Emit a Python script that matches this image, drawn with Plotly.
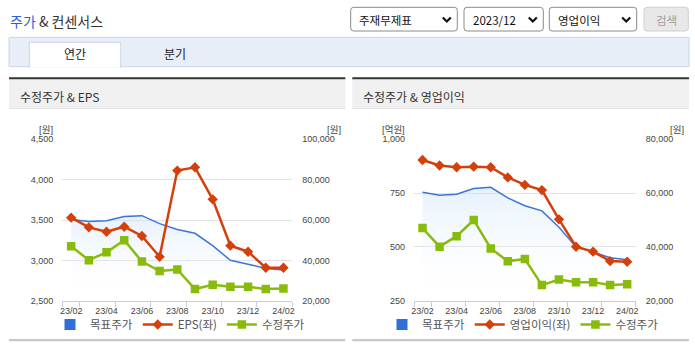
import plotly.graph_objects as go

W, H = 695, 349

# ---------------- data ----------------
months = ['23/02', '23/03', '23/04', '23/05', '23/06', '23/07', '23/08',
          '23/09', '23/10', '23/11', '23/12', '24/01', '24/02']
target_price = [60300, 59200, 59600, 61700, 62150, 58200, 55300,
                53400, 47300, 40000, 38100, 36000, 35200]          # 목표주가 (원)
adj_price = [47000, 40100, 44000, 50000, 39400, 34700, 35500,
             25800, 27900, 26900, 26900, 25800, 26100]             # 수정주가 (원)
eps = [3529, 3409, 3355, 3417, 3302, 3045, 4112,
       4153, 3756, 3182, 3107, 2909, 2909]                         # EPS (원)
op_income = [904, 878, 870, 873, 870, 823, 788,
             764, 628, 501, 478, 434, 431]                         # 영업이익 (억원)

header_title = '주가 & 컨센서스'
tabs = ['연간', '분기']
selects = ['주재무제표', '2023/12', '영업이익']
button_text = '검색'
panel_titles = ['수정주가 & EPS', '수정주가 & 영업이익']

# ---------------- styles ----------------
BLUE = '#2f6fd8'
BLUE_LINE = '#3b76d6'
RED = '#d4400c'
GREEN = '#88bb0c'
KFONT = 'Noto Sans CJK KR, Noto Sans, sans-serif'
NFONT = 'Liberation Sans, Noto Sans CJK KR, sans-serif'


def px(x):
    return x / W


def py(y):
    return 1 - y / H


idx = list(range(len(months)))
tickvals = idx[::2]
ticktext = months[::2]
minor_vals = [-0.5] + [i + 0.5 for i in idx[::2]]

fig = go.Figure()


def add_chart(xa, ya_price, ya_left, left_vals, left_name, legend_id):
    # legend-only swatch for 목표주가
    fig.add_trace(go.Scatter(
        x=[None], y=[None], mode='markers', name='목표주가',
        marker=dict(symbol='square', size=11, color=BLUE),
        xaxis=xa, yaxis=ya_price, legend=legend_id, legendrank=1,
        hoverinfo='skip'))
    # target price area
    fig.add_trace(go.Scatter(
        x=idx, y=target_price, mode='lines', name='목표주가', showlegend=False,
        line=dict(color=BLUE_LINE, width=1.5), fill='tozeroy',
        fillgradient=dict(type='vertical', start=20000, stop=max(target_price),
                          colorscale=[[0, 'rgba(255,255,255,0)'],
                                      [1, 'rgba(200,222,248,0.45)']]),
        xaxis=xa, yaxis=ya_price, legend=legend_id))
    # adjusted price
    fig.add_trace(go.Scatter(
        x=idx, y=adj_price, mode='lines+markers', name='수정주가',
        line=dict(color=GREEN, width=2.5),
        marker=dict(symbol='square', size=8.5, color=GREEN),
        xaxis=xa, yaxis=ya_price, legend=legend_id, legendrank=3))
    # left-axis series (drawn on overlaying axis => on top)
    fig.add_trace(go.Scatter(
        x=idx, y=left_vals, mode='lines+markers', name=left_name,
        line=dict(color=RED, width=2.5),
        marker=dict(symbol='diamond', size=8, color=RED),
        xaxis=xa, yaxis=ya_left, legend=legend_id, legendrank=2))


add_chart('x', 'y', 'y2', eps, 'EPS(좌)', 'legend')
add_chart('x2', 'y3', 'y4', op_income, '영업이익(좌)', 'legend2')

AXIS_COLOR = '#c3cfe0'
GRID = '#e2e2e2'
TICKFONT = dict(family=NFONT, size=9, color='#444')


def xaxis_cfg(x0, x1, anchor):
    return dict(domain=[px(x0), px(x1)], anchor=anchor, range=[-0.5, len(months) - 0.5],
                tickmode='array', tickvals=tickvals, ticktext=ticktext,
                ticks='', showgrid=False, zeroline=False, automargin=False,
                showline=True, linecolor=AXIS_COLOR, linewidth=1,
                tickfont=TICKFONT, fixedrange=True, ticklabelstandoff=1,
                minor=dict(tickmode='array', tickvals=minor_vals, ticks='outside',
                           ticklen=5, tickcolor=AXIS_COLOR, tickwidth=1, showgrid=False))


def price_axis(anchor, top):
    return dict(domain=YDOM, anchor=anchor, side='right', range=[20000, top], dtick=20000,
                tickformat=',', showgrid=True, gridcolor=GRID, zeroline=False,
                showline=False, ticks='', tickfont=TICKFONT, ticklabelstandoff=9,
                fixedrange=True, automargin=False)


def left_axis(anchor, over, lo, hi, step):
    return dict(domain=YDOM, anchor=anchor, overlaying=over, side='left',
                range=[lo, hi], dtick=step, tickformat=',', showgrid=False,
                zeroline=False, showline=False, ticks='', tickfont=TICKFONT,
                ticklabelstandoff=8, fixedrange=True, automargin=False)


YDOM = [py(300.7), py(139.3)]

LEGEND_FONT = dict(family=KFONT, size=11.5, color='#555')

fig.update_layout(
    template='none',
    width=W, height=H, margin=dict(l=0, r=0, t=0, b=0, pad=0, autoexpand=False),
    paper_bgcolor='white', plot_bgcolor='white',
    showlegend=True, hovermode=False,
    xaxis=xaxis_cfg(62.3, 292.3, 'y'),
    xaxis2=xaxis_cfg(414, 635.7, 'y3'),
    yaxis=price_axis('x', 100000),
    yaxis2=left_axis('x', 'y', 2500, 4500, 500),
    yaxis3=price_axis('x2', 80000),
    yaxis4=left_axis('x2', 'y3', 250, 1000, 250),
    legend=dict(orientation='h', x=px(180), y=py(324.5), xanchor='center', yanchor='middle',
                font=LEGEND_FONT, bgcolor='rgba(0,0,0,0)', itemwidth=30,
                tracegroupgap=0),
    legend2=dict(orientation='h', x=px(523), y=py(324.5), xanchor='center', yanchor='middle',
                 font=LEGEND_FONT, bgcolor='rgba(0,0,0,0)', itemwidth=30,
                 tracegroupgap=0),
)

shapes = []
annotations = []


def rect(x0, y0, x1, y1, fill, line=None, lw=1):
    shapes.append(dict(type='rect', xref='paper', yref='paper', layer='below',
                       x0=px(x0), x1=px(x1), y0=py(y1), y1=py(y0),
                       fillcolor=fill, line=dict(color=line or fill, width=lw if line else 0)))


def rrect(x0, y0, x1, y1, r, fill, line, lw=1):
    p = (f'M {px(x0 + r)},{py(y0)} L {px(x1 - r)},{py(y0)} '
         f'Q {px(x1)},{py(y0)} {px(x1)},{py(y0 + r)} '
         f'L {px(x1)},{py(y1 - r)} Q {px(x1)},{py(y1)} {px(x1 - r)},{py(y1)} '
         f'L {px(x0 + r)},{py(y1)} Q {px(x0)},{py(y1)} {px(x0)},{py(y1 - r)} '
         f'L {px(x0)},{py(y0 + r)} Q {px(x0)},{py(y0)} {px(x0 + r)},{py(y0)} Z')
    shapes.append(dict(type='path', xref='paper', yref='paper', path=p,
                       fillcolor=fill, line=dict(color=line, width=lw)))


def text(x, y, s, size=12, color='#333', xanchor='left', family=KFONT):
    annotations.append(dict(xref='paper', yref='paper', x=px(x), y=py(y), text=s,
                            showarrow=False, xanchor=xanchor, yanchor='middle',
                            font=dict(family=family, size=size, color=color), borderpad=0))


def chevron(cx, cy):
    p = (f'M {px(cx - 4)},{py(cy - 2)} L {px(cx)},{py(cy + 2)} L {px(cx + 4)},{py(cy - 2)}')
    shapes.append(dict(type='path', xref='paper', yref='paper', path=p,
                       line=dict(color='#111', width=2.2)))


# header title
first_word = header_title.split(' ')[0]
annotations.append(dict(xref='paper', yref='paper', x=px(9), y=py(21.5), showarrow=False,
                        xanchor='left', yanchor='middle', borderpad=0,
                        text=f"<span style='color:#2b5fd6'>{first_word}</span>"
                             f"{header_title[len(first_word):]}",
                        font=dict(family=KFONT, size=14, color='#333')))

# selects
sel_boxes = [(350.7, 457.3), (464, 543.3), (549.3, 636.7)]
for (x0, x1), s in zip(sel_boxes, selects):
    rrect(x0, 7.3, x1, 31, 3, 'white', '#8a8a8a')
    text(x0 + 7.5, 19.5, s, size=11.5, color='#111')
    chevron(x1 - 10.5, 19.5)
rrect(644, 7.3, 688.3, 31, 3, '#e8e8e8', '#cfcfcf')
text(666.2, 19.5, button_text, size=11.5, color='#a0a0a0', xanchor='center')

# tab band
rect(9, 37.3, 689, 66.7, '#e8eef8', '#c9d5e8')
rect(29.3, 42.3, 120.7, 67.2, 'white', '#c9d5e8')
rect(30, 66, 120, 67.8, 'white')
text(75, 53.5, tabs[0], size=12, color='#222', xanchor='center')
text(175, 53.5, tabs[1], size=12, color='#222', xanchor='center')

# panels
for (x0, x1), title, tx in zip([(9, 345.3), (352.3, 689)], panel_titles, [19, 362]):
    rect(x0, 77.2, x1, 79.6, '#333333')
    rect(x0, 79.6, x1, 108.3, '#f0f0f0')
    rect(x0, 108.0, x1, 108.8, '#dcdcdc')
    rect(x0, 339, x1, 341.2, '#c8c8c8')
    text(tx, 96, title, size=12, color='#333')

# axis unit labels
text(53.5, 130, '[원]', size=9.5, color='#444', xanchor='right', family=NFONT)
text(342, 130, '[원]', size=9.5, color='#444', xanchor='right', family=NFONT)
text(405.5, 130, '[억원]', size=9.5, color='#444', xanchor='right', family=NFONT)
text(685, 130, '[원]', size=9.5, color='#444', xanchor='right', family=NFONT)

fig.update_layout(shapes=shapes, annotations=annotations)

fig.write_html('out.html')
